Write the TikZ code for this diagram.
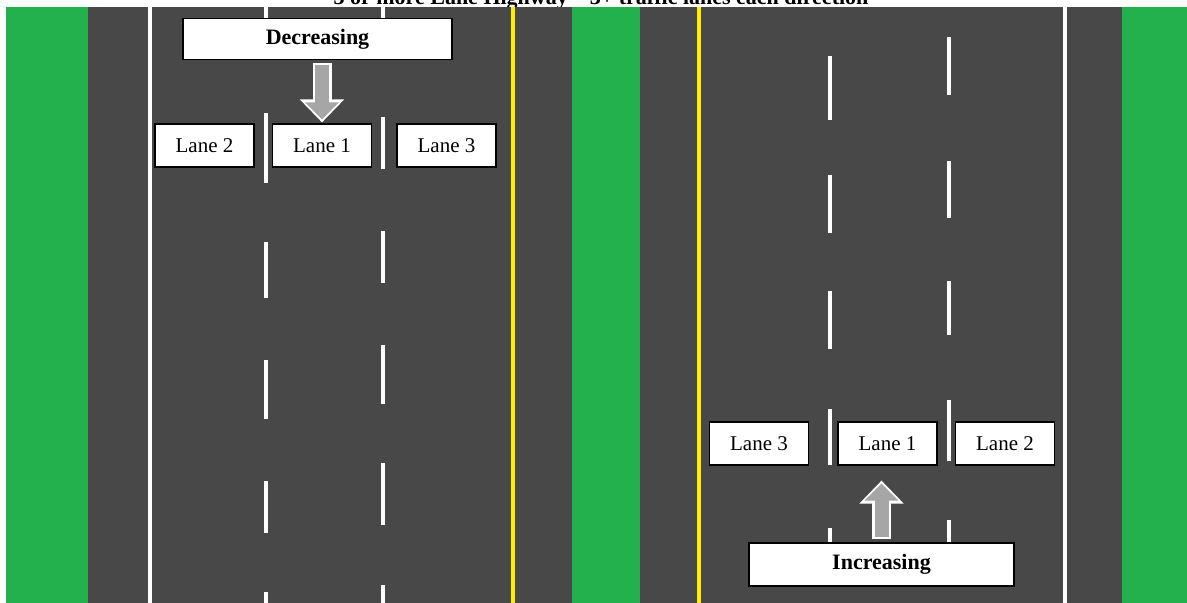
\documentclass[tikz,border=0pt]{standalone}
\usepackage{fontspec}
\setmainfont{Liberation Serif}
\usetikzlibrary{arrows.meta}
\definecolor{grass}{RGB}{34,177,76}
\definecolor{asphalt}{RGB}{72,72,72}
\definecolor{centreline}{RGB}{255,238,0}
\definecolor{arrowgray}{RGB}{166,166,166}

\begin{document}
\begin{tikzpicture}[x=0.5pt, y=-0.5pt]
    \tikzset{
      lanebox/.style={draw=black, line width=0.6pt, fill=white, minimum width=49.5pt,
        minimum height=21.5pt, inner sep=0pt, font=\fontsize{10.5}{12}\selectfont},
      dirbox/.style={draw=black, line width=0.6pt, fill=white, minimum height=20.5pt,
        inner sep=0pt, font=\fontsize{11}{13}\selectfont\bfseries},
      dashln/.style={white, line width=2.2pt},
      edgeln/.style={white, line width=2pt},
      yellowln/.style={centreline, line width=2pt},
      arrowout/.style={white, line width=9.5pt, -{Triangle[length=11.5pt, width=21.5pt]}},
      arrowin/.style={arrowgray, line width=7pt, -{Triangle[length=8.5pt, width=16.5pt]}},
    }
    \useasboundingbox (0,0) rectangle (1187,603);
    \fill[white] (0,0) rectangle (1187,603);
    % ===== title, cut by the top edge =====
    \node[anchor=base, inner sep=0pt, font=\fontsize{11}{13}\selectfont\bfseries] (title) at (601,4.5)
      {3 or more Lane Highway -- 3+ traffic lanes each direction};
    % ===== ground =====
    \fill[grass] (6,7) rectangle (88,603);
    \fill[asphalt] (88,7) rectangle (572,603);
    \fill[grass] (572,7) rectangle (640,603);
    \fill[asphalt] (640,7) rectangle (1122,603);
    \fill[grass] (1122,7) rectangle (1187,603);
    % ===== solid lines =====
    \draw[edgeln] (150,7) -- (150,603);
    \draw[yellowln] (513,7) -- (513,603);
    \draw[yellowln] (699,7) -- (699,603);
    \draw[edgeln] (1065,7) -- (1065,603);
    % ===== broken lines =====
    \foreach \a/\b in {7/25,113/183,242/298,360/419,481/533,592/603}
      \draw[dashln] (266,\a) -- (266,\b);
    \foreach \a/\b in {7/25,117/169,231/283,345/404,463/525,585/603}
      \draw[dashln] (383,\a) -- (383,\b);
    \foreach \a/\b in {56/120,175/233,291/349,409/465,528/555}
      \draw[dashln] (830,\a) -- (830,\b);
    \foreach \a/\b in {37/95,161/218,281/335,400/461,520/555}
      \draw[dashln] (949,\a) -- (949,\b);
    % ===== decreasing side =====
    \node[dirbox, minimum width=134.5pt] (dec) at (317.5,39) {Decreasing};
    \node[lanebox] (dl2) at (204.5,145.5) {Lane 2};
    \node[lanebox] (dl1) at (322,145.5) {Lane 1};
    \node[lanebox] (dl3) at (446.5,145.5) {Lane 3};
    \draw[arrowout, shorten <=1.5pt, shorten >=0.5pt] (dec.south -| dl1.north) -- (dl1.north);
    \draw[arrowin, shorten <=2.5pt, shorten >=2pt] (dec.south -| dl1.north) -- (dl1.north);
    % ===== increasing side =====
    \node[dirbox, minimum width=132.5pt, minimum height=21.5pt] (inc) at (881.5,564.5) {Increasing};
    \node[lanebox] (il3) at (759,443.5) {Lane 3};
    \node[lanebox] (il1) at (887.5,443.5) {Lane 1};
    \node[lanebox] (il2) at (1005,443.5) {Lane 2};
    \draw[arrowout, shorten <=1.5pt, shorten >=7.5pt] (inc.north) -- (il1.south -| inc.north);
    \draw[arrowin, shorten <=2.5pt, shorten >=9pt] (inc.north) -- (il1.south -| inc.north);
\end{tikzpicture}
\end{document}
